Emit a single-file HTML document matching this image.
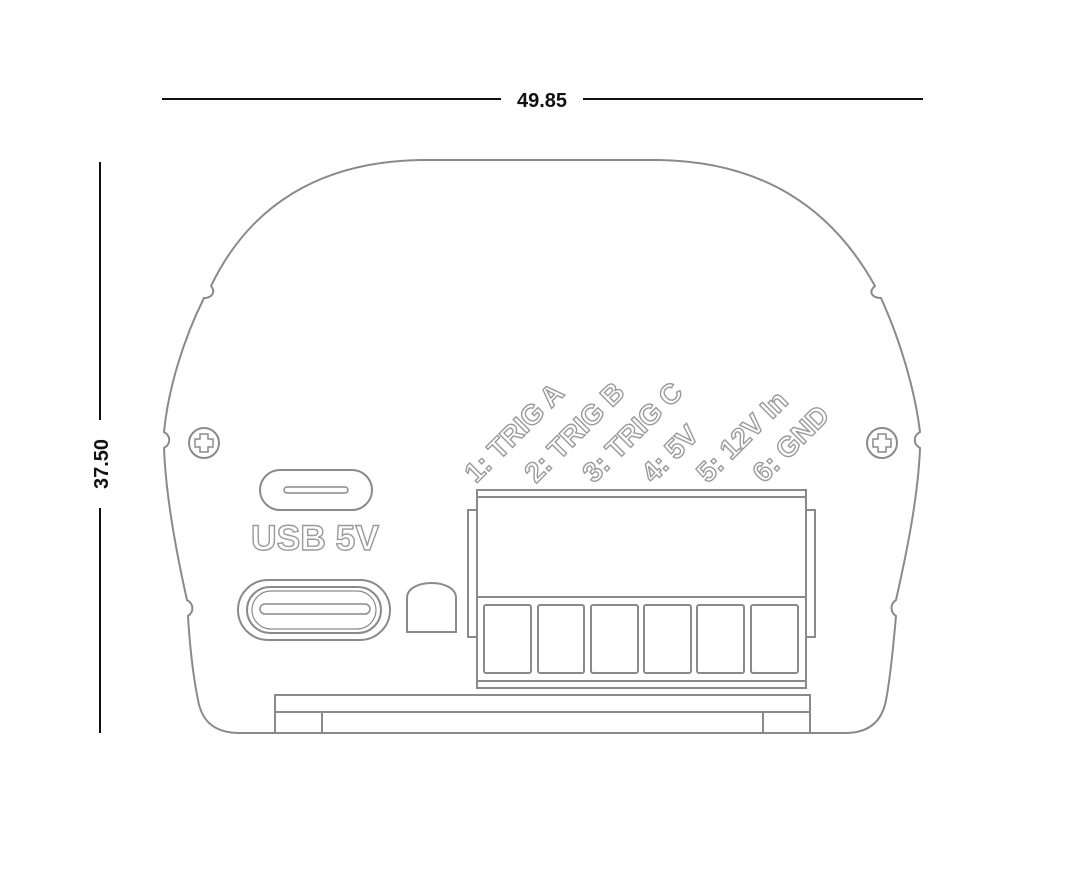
<!DOCTYPE html>
<html><head><meta charset="utf-8"><style>html,body{margin:0;padding:0;background:#fff;}svg{display:block}</style></head>
<body>
<svg width="1086" height="896" viewBox="0 0 1086 896" xmlns="http://www.w3.org/2000/svg">
<g stroke="#111" stroke-width="2">
<line x1="162" y1="99" x2="501" y2="99"/><line x1="583" y1="99" x2="923" y2="99"/>
<line x1="100" y1="162" x2="100" y2="420"/><line x1="100" y1="508" x2="100" y2="733"/>
</g>
<text x="542" y="107" font-family="Liberation Sans, sans-serif" font-size="20" font-weight="bold" text-anchor="middle" fill="#111">49.85</text>
<text transform="translate(108,464) rotate(-90)" font-family="Liberation Sans, sans-serif" font-size="20" font-weight="bold" text-anchor="middle" fill="#111">37.50</text>
<g fill="none" stroke="#8a8a8a" stroke-width="2">
<path d="M 204 298 C 212 298 216 292 211 286 C 250 205 320 162 420 160 L 660 160 C 760 162 830 205 875 286 C 868 292 872 298 881 298 C 900 340 915 390 920 432 C 913 436 913 444 920 448 C 918 500 905 560 896 600 C 890 604 890 612 896 616 C 893 650 890 680 886 700 C 882 722 868 733 845 733 L 240 733 C 215 733 202 722 198 700 C 194 680 190 650 188 616 C 194 612 194 604 187 600 C 178 560 166 500 164 448 C 171 444 171 436 164 432 C 168 390 183 340 204 298 Z"/>
<circle cx="204" cy="443" r="15"/><circle cx="882" cy="443" r="15"/>
<path d="M200 434h8v5h5v8h-5v5h-8v-5h-5v-8h5z" stroke-width="1.5"/>
<path d="M878 434h8v5h5v8h-5v5h-8v-5h-5v-8h5z" stroke-width="1.5"/>
<rect x="260" y="470" width="112" height="40" rx="20"/>
<rect x="284" y="487" width="64" height="6" rx="3" stroke-width="1.5"/>
<rect x="238" y="580" width="152" height="60" rx="30"/>
<rect x="247" y="587" width="134" height="46" rx="23"/>
<rect x="252" y="591" width="124" height="38" rx="19" stroke-width="1.2"/>
<rect x="260" y="604" width="110" height="10" rx="5" stroke-width="1.5"/>
<path d="M407 632 L407 598 C407 578 456 578 456 598 L456 632 Z"/>
<rect x="477" y="490" width="329" height="198"/>
<line x1="477" y1="497" x2="806" y2="497"/>
<line x1="477" y1="597" x2="806" y2="597"/>
<line x1="477" y1="681" x2="806" y2="681"/>
<rect x="468" y="510" width="9" height="127"/>
<rect x="806" y="510" width="9" height="127"/>
<rect x="484" y="605" width="47" height="68" rx="2"/>
<rect x="538" y="605" width="46" height="68" rx="2"/>
<rect x="591" y="605" width="47" height="68" rx="2"/>
<rect x="644" y="605" width="47" height="68" rx="2"/>
<rect x="697" y="605" width="47" height="68" rx="2"/>
<rect x="751" y="605" width="47" height="68" rx="2"/>
<rect x="275" y="695" width="535" height="38"/>
<line x1="275" y1="712" x2="810" y2="712"/>
<line x1="322" y1="712" x2="322" y2="733"/>
<line x1="763" y1="712" x2="763" y2="733"/>
</g>
<g font-family="Liberation Sans, sans-serif" font-weight="bold" fill="#fff" stroke="#9a9a9a" stroke-width="1.4">
<text x="251" y="550" font-size="35" textLength="128" lengthAdjust="spacingAndGlyphs">USB 5V</text>
<text transform="translate(476,484) rotate(-45)" font-size="28">1: TRIG A</text>
<text transform="translate(536,484) rotate(-45)" font-size="28">2: TRIG B</text>
<text transform="translate(594,484) rotate(-45)" font-size="28">3: TRIG C</text>
<text transform="translate(653,484) rotate(-45)" font-size="28">4: 5V</text>
<text transform="translate(708,484) rotate(-45)" font-size="28">5: 12V In</text>
<text transform="translate(764,484) rotate(-45)" font-size="28">6: GND</text>
</g>
</svg>
</body></html>
